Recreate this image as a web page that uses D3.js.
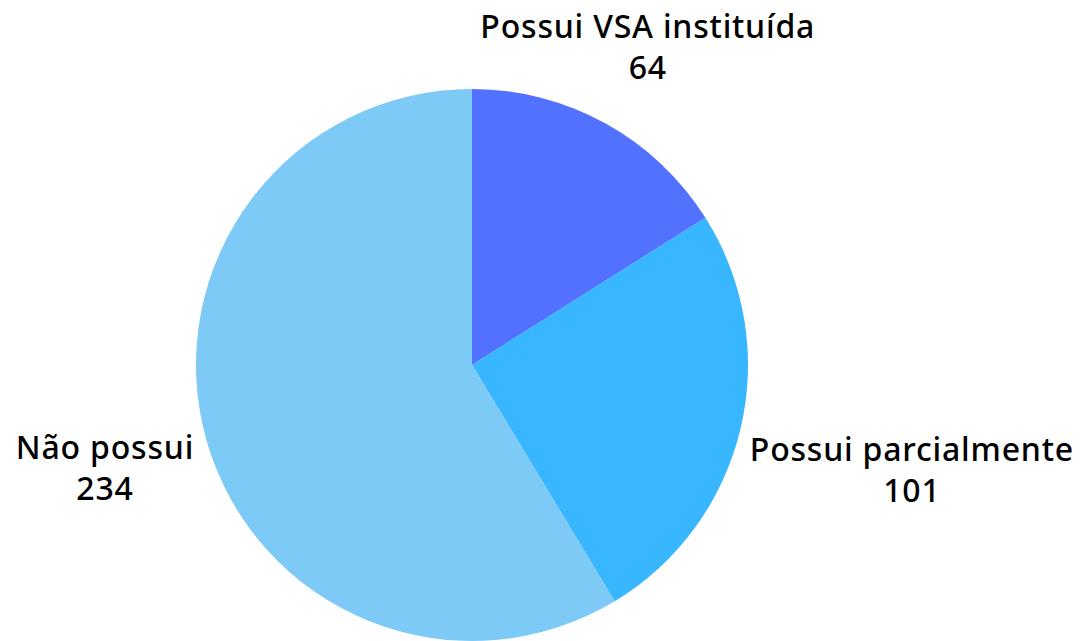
<!DOCTYPE html>
<html>
<head>
<meta charset="utf-8">
<script src="https://cdn.jsdelivr.net/npm/d3@7"></script>
<style>
  body { margin: 0; background: #fff; }
  svg { display: block; }
  .label { font-family: "Noto Sans", sans-serif; font-weight: 500; font-size: 32px; letter-spacing: 0.8px; fill: #000; }
</style>
</head>
<body>
<div id="chart"></div>
<script>
const categories = ["Possui VSA instituída", "Possui parcialmente", "Não possui"];
const values = [64, 101, 234];
const colors = ["#5271ff", "#38b6ff", "#7dcaf7"];

const width = 1091;
const height = 641;
const cx = 472;
const cy = 365;
const radius = 276;
const gap = 10;

const data = categories.map((c, i) => ({ name: c, value: values[i] }));

const svg = d3
  .select("#chart")
  .append("svg")
  .attr("width", width)
  .attr("height", height);

const g = svg.append("g").attr("transform", `translate(${cx},${cy})`);

const pie = d3.pie().sort(null).value((d) => d.value);
const arc = d3.arc().innerRadius(0).outerRadius(radius);
const colorScale = d3.scaleOrdinal().domain(categories).range(colors);

const arcs = pie(data);

g.selectAll("path")
  .data(arcs)
  .enter()
  .append("path")
  .attr("d", arc)
  .attr("fill", (d) => colorScale(d.data.name));

// labels: push each text block outward along the slice's mid angle
// until its (tight) box clears the pie
const labels = g
  .selectAll("text.label")
  .data(arcs)
  .enter()
  .append("text")
  .attr("class", "label")
  .attr("text-anchor", "middle");

labels
  .append("tspan")
  .attr("x", 0)
  .attr("dy", 0)
  .text((d) => d.data.name);

labels
  .append("tspan")
  .attr("x", 0)
  .attr("dy", 41)
  .text((d) => d.data.value);

labels.each(function (d) {
  const box = this.getBBox();
  // trim the line ascent/descent so the box hugs the glyphs
  const top = box.y + 10;
  const bottom = box.y + box.height - 9;
  const h = bottom - top;
  const a = (d.startAngle + d.endAngle) / 2;
  const sx = Math.sin(a);
  const sy = -Math.cos(a);
  const boxCx = box.x + box.width / 2;
  const boxCy = (top + bottom) / 2;
  let dist = radius;
  for (; dist < 1000; dist += 1) {
    const px = dist * sx;
    const py = dist * sy;
    const nx = Math.max(px - box.width / 2, Math.min(0, px + box.width / 2));
    const ny = Math.max(py - h / 2, Math.min(0, py + h / 2));
    if (Math.hypot(nx, ny) >= radius + gap) break;
  }
  d3.select(this).attr(
    "transform",
    `translate(${dist * sx - boxCx},${dist * sy - boxCy})`
  );
});
</script>
</body>
</html>
